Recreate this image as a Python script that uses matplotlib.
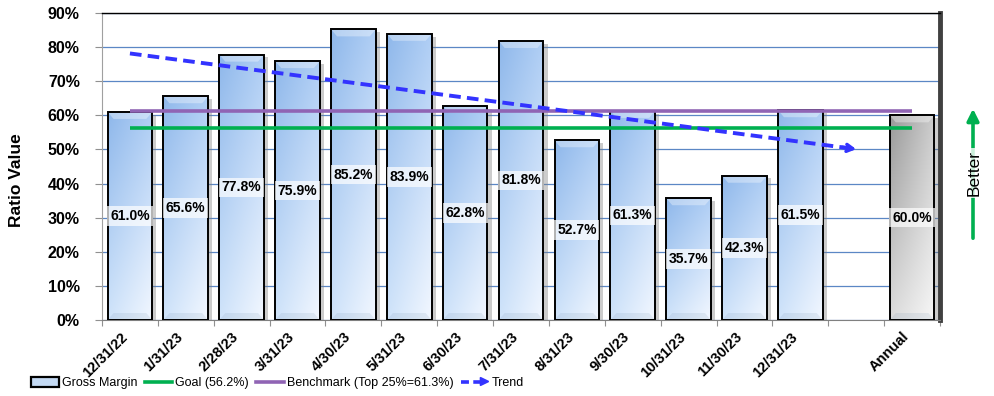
import numpy as np
import matplotlib
matplotlib.use("Agg")
import matplotlib.pyplot as plt
from matplotlib.patches import Patch, Polygon, FancyArrowPatch
from matplotlib.lines import Line2D
from matplotlib.legend_handler import HandlerBase
import matplotlib.patheffects as pe

# ---- data -------------------------------------------------------------
periods = ["12/31/22", "1/31/23", "2/28/23", "3/31/23", "4/30/23", "5/31/23",
           "6/30/23", "7/31/23", "8/31/23", "9/30/23", "10/31/23", "11/30/23",
           "12/31/23"]
gross_margin = [61.0, 65.6, 77.8, 75.9, 85.2, 83.9, 62.8, 81.8, 52.7, 61.3,
                35.7, 42.3, 61.5]
annual_label = "Annual"
annual_value = 60.0
goal = 56.2
benchmark = 61.3
y_ticks = [0, 10, 20, 30, 40, 50, 60, 70, 80, 90]

# ---- styling ----------------------------------------------------------
SANS = ["Liberation Sans", "DejaVu Sans"]
GRID = "#5b87c5"
GREEN = "#00b050"
PURPLE = "#9064b4"
TREND = "#3333ff"

plt.rcParams["font.family"] = SANS

x_month = np.arange(len(periods))
x_blank = len(periods)
x_annual = len(periods) + 1
tick_pos = list(x_month) + [x_blank, x_annual]
tick_lab = periods + ["", annual_label]

fig = plt.figure(figsize=(9.94, 3.96), dpi=100)
ax = fig.add_axes([102 / 994, 1 - 320 / 396, 838 / 994, 307 / 396])
ax.set_xlim(-0.5, x_annual + 0.5)
ax.set_ylim(0, 90)

# pixel -> data scale factors (axes geometry is fixed above)
_p0 = ax.transData.inverted().transform((0, 0))
_p1 = ax.transData.inverted().transform((1, 1))
PX_X, PX_Y = _p1 - _p0


def corner_gradient(tl, tr, bl, br, n=64):
    """Bilinear colour field: rows go top->bottom, columns left->right."""
    tl, tr, bl, br = (np.array(c, dtype=float) for c in (tl, tr, bl, br))
    v = np.linspace(0, 1, n)[:, None, None]      # 0 top, 1 bottom
    u = np.linspace(0, 1, n)[None, :, None]      # 0 left, 1 right
    top = tl * (1 - u) + tr * u
    bot = bl * (1 - u) + br * u
    return top * (1 - v) + bot * v


BLUE_FILL = corner_gradient((0.56, 0.72, 0.92), (0.69, 0.81, 0.96),
                            (0.81, 0.89, 0.98), (0.95, 0.97, 1.00))
GREY_FILL = corner_gradient((0.60, 0.60, 0.60), (0.80, 0.80, 0.80),
                            (0.86, 0.86, 0.86), (0.97, 0.97, 0.97))

shadow = [pe.SimplePatchShadow(offset=(3, -2), shadow_rgbFace="#808080",
                               alpha=0.4), pe.Normal()]


def gradient_bars(xs, vals, fill):
    base = ax.bar(xs, vals, width=0.8, color="white", edgecolor="none",
                  zorder=2)
    for patch in base:
        patch.set_path_effects(shadow)
        x0, w, h = patch.get_x(), patch.get_width(), patch.get_height()
        im = ax.imshow(fill, extent=[x0, x0 + w, 0, h], aspect="auto",
                       origin="upper", interpolation="bilinear", zorder=3)
        im.set_clip_path(patch)
        # bevelled top and bottom faces
        dx, dy = 6 * PX_X, 7 * PX_Y
        ax.add_patch(Polygon([[x0, h], [x0 + w, h], [x0 + w - dx, h - dy],
                              [x0 + dx, h - dy]], closed=True,
                             fc="white", ec="none", alpha=0.35, zorder=3.5))
        ax.add_patch(Polygon([[x0, 0], [x0 + w, 0], [x0 + w - dx, dy],
                              [x0 + dx, dy]], closed=True,
                             fc="#6080a0", ec="none", alpha=0.12,
                             zorder=3.5))
    ax.bar(xs, vals, width=0.8, fill=False, edgecolor="black", linewidth=1.4,
           zorder=4)
    for x, v in zip(xs, vals):
        ax.text(x, v / 2, f"{v:.1f}%", ha="center", va="center",
                fontsize=10, fontweight="bold", zorder=8,
                bbox=dict(boxstyle="square,pad=0.2", fc="white", ec="none",
                          alpha=0.7))


gradient_bars(x_month, gross_margin, BLUE_FILL)
gradient_bars([x_annual], [annual_value], GREY_FILL)

# reference lines
ax.plot([0, x_annual], [goal, goal], color=GREEN, lw=2.6, zorder=5,
        solid_capstyle="butt")
ax.plot([0, x_annual], [benchmark, benchmark], color=PURPLE, lw=2.6,
        zorder=5, solid_capstyle="butt")

# linear trend over the monthly values, projected one slot ahead
slope, intercept = np.polyfit(x_month, gross_margin, 1)
tx = np.array([0, x_blank], dtype=float)
ty = slope * tx + intercept
ax.plot(tx, ty, color=TREND, lw=2.8, ls=(0, (3, 1.6)), zorder=6)
ax.annotate("", xy=(tx[1], ty[1]), xytext=(tx[1] - 0.25, ty[1] - 0.25 * slope),
            arrowprops=dict(arrowstyle="->,head_length=0.45,head_width=0.25",
                            color=TREND, lw=2.5, shrinkA=0, shrinkB=0),
            zorder=7)

# axes, grid, ticks
ax.set_yticks(y_ticks)
ax.set_yticklabels([f"{t}%" for t in y_ticks], fontsize=11.5,
                   fontweight="bold")
ax.yaxis.grid(True, color=GRID, lw=0.9)
ax.set_axisbelow(True)
ax.tick_params(axis="y", length=5, color="#909090", pad=11)

ax.set_xticks(np.arange(-0.5, x_annual + 1, 1))
ax.set_xticklabels([])
ax.tick_params(axis="x", which="major", length=4, color="#909090")
ax.set_xticks(tick_pos, minor=True)
ax.set_xticklabels(tick_lab, minor=True, fontsize=10.5, fontweight="bold",
                   rotation=45, ha="right", va="top")
ax.tick_params(axis="x", which="minor", length=0, pad=7)

ax.spines["top"].set_color("black")
ax.spines["top"].set_linewidth(1.0)
ax.spines["right"].set_color("#404040")
ax.spines["right"].set_linewidth(3.5)
ax.spines["left"].set_color("#a0a0a0")
ax.spines["bottom"].set_color("#808080")

fig.text(17 / 994, 1 - 180 / 396, "Ratio Value", rotation=90, ha="center",
         va="center", fontsize=12.5, fontweight="bold")

# "Better" direction marker
fig.patches.append(FancyArrowPatch(
    (973 / 994, 1 - 241 / 396), (973 / 994, 1 - 106 / 396),
    transform=fig.transFigure, arrowstyle="-|>,head_length=7,head_width=3.5",
    color=GREEN, lw=2.6, mutation_scale=1))
fig.text(974 / 994, 1 - 173 / 396, "Better", rotation=90, ha="center",
         va="center", fontsize=12.5,
         bbox=dict(boxstyle="square,pad=0.1", fc="white", ec="none",
                   alpha=0.8))


# legend
class TrendHandler(HandlerBase):
    def create_artists(self, legend, orig_handle, xdescent, ydescent,
                       width, height, fontsize, trans):
        y = (height - ydescent) / 2
        x0 = -xdescent
        line = Line2D([x0, x0 + width * 0.72], [y, y], color=TREND, lw=2.6,
                      ls=(0, (2.2, 1.2)), transform=trans)
        head = Polygon([[x0 + width * 0.70, y + height * 0.42],
                        [x0 + width, y],
                        [x0 + width * 0.70, y - height * 0.42]],
                       closed=True, color=TREND, transform=trans)
        return [line, head]


h_bar = Patch(facecolor="#c4d9f3", edgecolor="black", linewidth=1.6)
h_goal = Line2D([], [], color=GREEN, lw=2.6)
h_bench = Line2D([], [], color=PURPLE, lw=2.6)
h_trend = object()
fig.legend([h_bar, h_goal, h_bench, h_trend],
           ["Gross Margin", f"Goal ({goal}%)",
            f"Benchmark (Top 25%={benchmark}%)", "Trend"],
           handler_map={h_trend: TrendHandler()},
           loc="center left", bbox_to_anchor=(31 / 994, 1 - 383 / 396),
           ncol=4, frameon=False, borderpad=0, borderaxespad=0,
           handlelength=2.2, handleheight=0.8, handletextpad=0.25,
           columnspacing=0.6, prop=dict(size=9))

fig.savefig("out.png", dpi=100)
